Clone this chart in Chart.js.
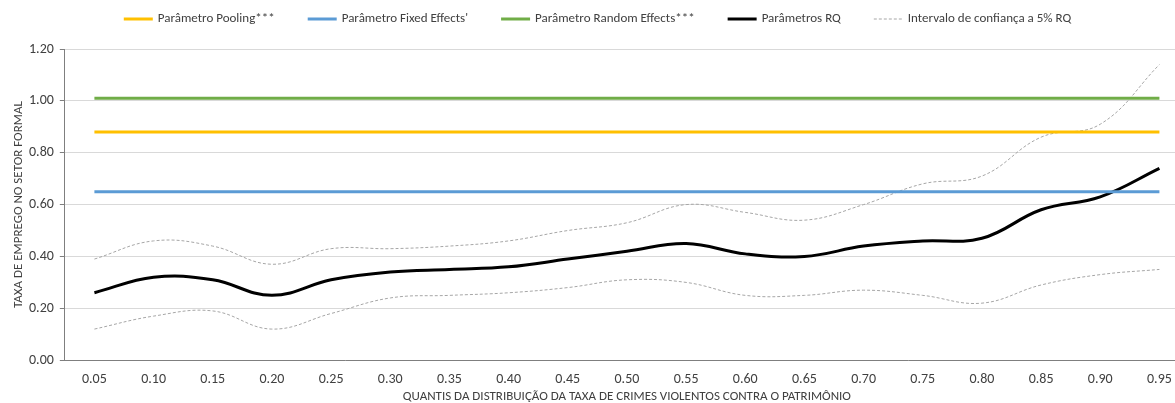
<!DOCTYPE html>
<html>
<head>
<meta charset="utf-8">
<script src="https://cdn.jsdelivr.net/npm/chart.js@4.4.0/dist/chart.umd.min.js"></script>
<style>
    html, body { margin: 0; padding: 0; background: #ffffff; overflow: hidden; }
    /* a área do gráfico passa um pouco da borda direita da janela */
    #wrap { width: 1189px; height: 403px; position: relative; }
</style>
</head>
<body>
<div id="wrap"><canvas id="chart-quantis"></canvas></div>
<script>
// Quantis da distribuição
const quantis = ['0.05', '0.10', '0.15', '0.20', '0.25', '0.30', '0.35', '0.40', '0.45', '0.50',
                 '0.55', '0.60', '0.65', '0.70', '0.75', '0.80', '0.85', '0.90', '0.95'];

// Estimativas dos modelos de painel (constantes ao longo dos quantis)
const parametroPooling = 0.88;
const parametroFixed = 0.65;
const parametroRandom = 1.01;

// Regressão quantílica e intervalo de confiança
const parametrosRQ = [0.26, 0.32, 0.31, 0.25, 0.31, 0.34, 0.35, 0.36, 0.39, 0.42,
                      0.45, 0.41, 0.40, 0.44, 0.46, 0.47, 0.58, 0.63, 0.74];
const icSuperior = [0.39, 0.46, 0.44, 0.37, 0.43, 0.43, 0.44, 0.46, 0.50, 0.53,
                    0.60, 0.57, 0.54, 0.60, 0.68, 0.71, 0.86, 0.91, 1.14];
const icInferior = [0.12, 0.17, 0.19, 0.12, 0.18, 0.24, 0.25, 0.26, 0.28, 0.31,
                    0.30, 0.25, 0.25, 0.27, 0.25, 0.22, 0.29, 0.33, 0.35];

const yTicks = [0, 0.2, 0.4, 0.6, 0.8, 1.0, 1.2];

const corTexto = '#404040';
const corCinza = '#a6a6a6';
const corEixo = '#7f7f7f';
const fonte = 'Calibri, Carlito, Lato, sans-serif';

Chart.defaults.font.family = fonte;
Chart.defaults.font.size = 13;
Chart.defaults.color = corTexto;

const legendaItens = [
    { text: 'Parâmetro Pooling***', cor: '#ffc000', largura: 3, dash: [] },
    { text: "Parâmetro Fixed Effects'", cor: '#5b9bd5', largura: 3, dash: [] },
    { text: 'Parâmetro Random Effects***', cor: '#70ad47', largura: 3, dash: [] },
    { text: 'Parâmetros RQ', cor: '#000000', largura: 3, dash: [] },
    { text: 'Intervalo de confiança a 5% RQ', cor: corCinza, largura: 1, dash: [3, 2] }
];

// Legenda desenhada à mão: amostra de linha + texto, com espaçamento largo entre itens
const legendaLinhas = {
    id: 'legendaLinhas',
    afterDraw(chart) {
        const c = chart.ctx;
        const amostra = 29;
        const gapTexto = 5;
        const gapItem = 33;
        const y = 19;

        c.save();
        c.font = `13px ${fonte}`;
        const larguras = legendaItens.map(i => c.measureText(i.text).width);
        const total = larguras.reduce((a, w) => a + amostra + gapTexto + w, 0) + gapItem * (legendaItens.length - 1);
        let x = chart.width / 2 + 3 - total / 2;

        legendaItens.forEach((item, idx) => {
            c.beginPath();
            c.strokeStyle = item.cor;
            c.lineWidth = item.largura;
            c.setLineDash(item.dash);
            c.moveTo(x, y);
            c.lineTo(x + amostra, y);
            c.stroke();
            c.setLineDash([]);

            c.fillStyle = corTexto;
            c.textBaseline = 'middle';
            c.textAlign = 'left';
            c.fillText(item.text, x + amostra + gapTexto, y);
            x += amostra + gapTexto + larguras[idx] + gapItem;
        });
        c.restore();
    }
};

function linhaConstante(label, valor, cor) {
    return {
        label: label,
        data: new Array(quantis.length).fill(valor),
        borderColor: cor,
        backgroundColor: cor,
        borderWidth: 3,
        pointRadius: 0,
        fill: false
    };
}

function linhaRQ(label, dados, cor, largura, dash) {
    return {
        label: label,
        data: dados,
        borderColor: cor,
        borderWidth: largura,
        borderDash: dash,
        pointRadius: 0,
        tension: 0.4,
        fill: false
    };
}

const ctx = document.getElementById('chart-quantis').getContext('2d');

new Chart(ctx, {
    type: 'line',
    data: {
        labels: quantis,
        datasets: [
            linhaConstante('Parâmetro Pooling***', parametroPooling, '#ffc000'),
            linhaConstante("Parâmetro Fixed Effects'", parametroFixed, '#5b9bd5'),
            linhaConstante('Parâmetro Random Effects***', parametroRandom, '#70ad47'),
            linhaRQ('Parâmetros RQ', parametrosRQ, '#000000', 3, []),
            linhaRQ('Intervalo de confiança a 5% RQ', icSuperior, corCinza, 1, [3, 2]),
            linhaRQ('Intervalo inferior', icInferior, corCinza, 1, [3, 2])
        ]
    },
    plugins: [legendaLinhas],
    options: {
        responsive: true,
        maintainAspectRatio: false,
        animation: false,
        layout: {
            padding: { left: 10, right: 0, top: 49, bottom: 2 }
        },
        plugins: {
            legend: { display: false },
            tooltip: { enabled: false }
        },
        scales: {
            x: {
                offset: true,
                grid: { display: false, drawTicks: false },
                border: { display: true, color: corEixo, width: 1 },
                ticks: { color: corTexto, font: { size: 14 }, padding: 11, maxRotation: 0 },
                title: {
                    display: true,
                    text: 'QUANTIS DA DISTRIBUIÇÃO DA TAXA DE CRIMES VIOLENTOS CONTRA O PATRIMÔNIO',
                    color: corTexto,
                    font: { size: 13, lineHeight: 1 },
                    padding: { top: -9, bottom: -2 }
                }
            },
            y: {
                min: 0,
                max: 1.2,
                afterBuildTicks: axis => { axis.ticks = yTicks.map(v => ({ value: v })); },
                grid: {
                    color: '#d9d9d9',
                    tickColor: corEixo,
                    tickLength: 5,
                    drawTicks: true
                },
                border: { display: true, color: corEixo, width: 1 },
                ticks: {
                    color: corTexto,
                    font: { size: 14 },
                    padding: 6,
                    callback: value => value.toFixed(2)
                },
                title: {
                    display: true,
                    text: 'TAXA DE EMPREGO NO SETOR FORMAL',
                    color: corTexto,
                    font: { size: 13, lineHeight: 1 },
                    padding: { top: 2, bottom: -2 }
                }
            }
        }
    }
});
</script>
</body>
</html>
